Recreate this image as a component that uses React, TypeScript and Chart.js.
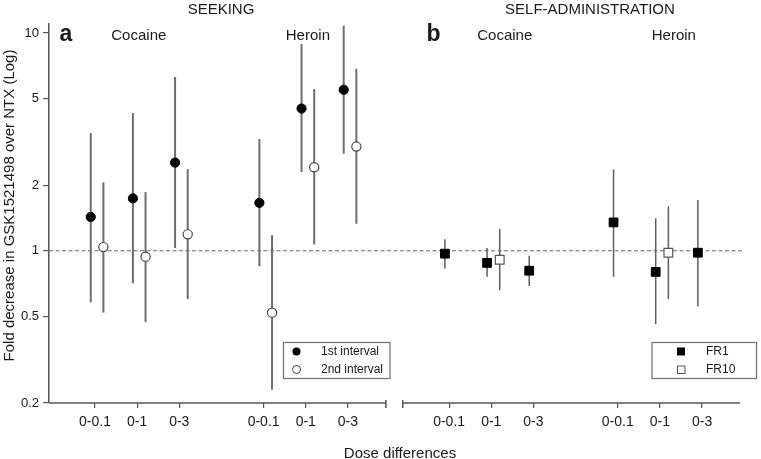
import { useEffect, useRef } from "react";
import { Chart, registerables } from "chart.js";

Chart.register(...registerables);

const FONT = '"Liberation Sans", Arial, Helvetica, sans-serif';

// ---- data ----
const doseLabels = ["0-0.1", "0-1", "0-3"];
const drugLabels = ["Cocaine", "Heroin"];
const panelTitles = ["SEEKING", "SELF-ADMINISTRATION"];
const yTicks = [0.2, 0.5, 1, 2, 5, 10];

// Panel a (seeking): order Cocaine 0-0.1, 0-1, 0-3, Heroin 0-0.1, 0-1, 0-3
const seek1stMean = [1.43, 1.74, 2.54, 1.66, 4.5, 5.49];
const seek1stLow = [0.58, 0.71, 1.03, 0.85, 2.3, 2.79];
const seek1stHigh = [3.47, 4.29, 6.28, 3.26, 8.9, 10.8];

const seek2ndMean = [1.04, 0.94, 1.19, 0.52, 2.42, 3.01];
const seek2ndLow = [0.52, 0.47, 0.6, 0.23, 1.07, 1.33];
const seek2ndHigh = [2.06, 1.86, 2.37, 1.18, 5.53, 6.86];

// Panel b (self-administration)
const fr1Mean = [0.97, 0.88, 0.81, 1.35, 0.8, 0.98];
const fr1Low = [0.83, 0.76, 0.69, 0.76, 0.46, 0.555];
const fr1High = [1.13, 1.03, 0.95, 2.36, 1.41, 1.71];

const fr10Mean = [null, 0.91, null, null, 0.98, null];
const fr10Low = [null, 0.66, null, null, 0.6, null];
const fr10High = [null, 1.26, null, null, 1.6, null];

// ---- layout helpers (category slots on a linear axis) ----
const panelStart = [1, 9.4];
const slot = (panel: number, i: number) =>
  panelStart[panel] + Math.floor(i / 3) * 4 + (i % 3);
const OFF_A = -0.1;
const OFF_B = 0.2;

export default function App() {
  const ref = useRef<HTMLCanvasElement | null>(null);

  useEffect(() => {
    if (!ref.current) return;

    const mk = (panel: number, off: number, mean: (number | null)[]) =>
      mean
        .map((v, i) => (v == null ? null : { x: slot(panel, i) + off, y: v }))
        .filter((p) => p !== null) as { x: number; y: number }[];

    const errSeries = [
      { panel: 0, off: OFF_A, lo: seek1stLow, hi: seek1stHigh, color: "#6e6e6e", w: 2 },
      { panel: 0, off: OFF_B, lo: seek2ndLow, hi: seek2ndHigh, color: "#6e6e6e", w: 2 },
      { panel: 1, off: OFF_A, lo: fr1Low, hi: fr1High, color: "#5e5e5e", w: 1.5 },
      { panel: 1, off: OFF_B, lo: fr10Low, hi: fr10High, color: "#5e5e5e", w: 1.5 },
    ];

    const tickPositions: number[] = [];
    for (let p = 0; p < 2; p++) for (let i = 0; i < 6; i++) tickPositions.push(slot(p, i));

    const overlay = {
      id: "overlay",
      beforeDatasetsDraw(chart: any) {
        const { ctx, chartArea } = chart;
        const xs = chart.scales.x;
        const ys = chart.scales.y;
        ctx.save();
        // reference line at 1
        const y1 = ys.getPixelForValue(1);
        ctx.strokeStyle = "#666";
        ctx.lineWidth = 1;
        ctx.setLineDash([4, 2.5]);
        ctx.beginPath();
        ctx.moveTo(chartArea.left, y1);
        ctx.lineTo(xs.getPixelForValue(16.39), y1);
        ctx.stroke();
        ctx.setLineDash([]);
        // error bars
        for (const s of errSeries) {
          ctx.strokeStyle = s.color;
          ctx.lineWidth = s.w;
          s.lo.forEach((lo, i) => {
            const hi = s.hi[i];
            if (lo == null || hi == null) return;
            const px = xs.getPixelForValue(slot(s.panel, i) + s.off);
            ctx.beginPath();
            ctx.moveTo(px, ys.getPixelForValue(lo));
            ctx.lineTo(px, ys.getPixelForValue(hi));
            ctx.stroke();
          });
        }
        // broken x axis
        const yb = chartArea.bottom;
        const aEnd = xs.getPixelForValue(7.9);
        const bStart = xs.getPixelForValue(8.3);
        const bEnd = xs.getPixelForValue(16.3);
        ctx.strokeStyle = "#555";
        ctx.lineWidth = 1.5;
        ctx.beginPath();
        ctx.moveTo(chartArea.left, yb);
        ctx.lineTo(aEnd, yb);
        ctx.moveTo(bStart, yb);
        ctx.lineTo(bEnd, yb);
        ctx.moveTo(aEnd, yb - 3);
        ctx.lineTo(aEnd, yb + 5);
        ctx.moveTo(bStart, yb - 3);
        ctx.lineTo(bStart, yb + 5);
        ctx.stroke();
        ctx.restore();
      },
      afterDraw(chart: any) {
        const { ctx } = chart;
        const xs = chart.scales.x;
        ctx.save();
        ctx.fillStyle = "#1a1a1a";
        ctx.textAlign = "center";
        ctx.textBaseline = "alphabetic";
        // panel titles
        ctx.font = `15px ${FONT}`;
        ctx.fillText(panelTitles[0], xs.getPixelForValue(3.99), 14);
        ctx.fillText(panelTitles[1], xs.getPixelForValue(12.74), 14);
        // drug labels
        ctx.fillText(drugLabels[0], xs.getPixelForValue(2.04), 39.5);
        ctx.fillText(drugLabels[1], xs.getPixelForValue(6.05), 39.5);
        ctx.fillText(drugLabels[0], xs.getPixelForValue(10.72), 39.5);
        ctx.fillText(drugLabels[1], xs.getPixelForValue(14.73), 39.5);
        // panel letters
        ctx.font = `bold 23px ${FONT}`;
        ctx.fillText("a", xs.getPixelForValue(0.31), 40.5);
        ctx.fillText("b", xs.getPixelForValue(9.03), 40.5);
        // axis titles
        ctx.font = `15px ${FONT}`;
        ctx.fillText("Dose differences", 400, 458);
        ctx.save();
        ctx.translate(10, 205.5);
        ctx.rotate(-Math.PI / 2);
        ctx.textBaseline = "middle";
        ctx.fillText("Fold decrease in GSK1521498 over NTX (Log)", 0, 0);
        ctx.restore();

        // legends
        const drawBox = (x: number, y: number, w: number, h: number) => {
          ctx.strokeStyle = "#777";
          ctx.lineWidth = 1.3;
          ctx.strokeRect(x, y, w, h);
        };
        ctx.textAlign = "left";
        ctx.textBaseline = "middle";
        ctx.font = `12px ${FONT}`;
        // panel a legend
        drawBox(283.5, 342.5, 106.5, 36);
        ctx.beginPath();
        ctx.arc(296.5, 351.5, 4, 0, Math.PI * 2);
        ctx.fillStyle = "#000";
        ctx.fill();
        ctx.beginPath();
        ctx.arc(296.5, 369.5, 4, 0, Math.PI * 2);
        ctx.fillStyle = "#fff";
        ctx.fill();
        ctx.strokeStyle = "#444";
        ctx.lineWidth = 1;
        ctx.stroke();
        ctx.fillStyle = "#1a1a1a";
        ctx.fillText("1st interval", 321, 351.5);
        ctx.fillText("2nd interval", 321, 369.5);
        // panel b legend
        drawBox(652, 342.5, 104.5, 36);
        ctx.fillStyle = "#000";
        ctx.fillRect(677, 347.5, 8, 8);
        ctx.fillStyle = "#fff";
        ctx.fillRect(677, 365.5, 8, 8);
        ctx.strokeStyle = "#555";
        ctx.lineWidth = 1;
        ctx.strokeRect(677.5, 366, 7.5, 7.5);
        ctx.fillStyle = "#1a1a1a";
        ctx.fillText("FR1", 706, 351.5);
        ctx.fillText("FR10", 706, 369.5);
        ctx.restore();
      },
    };

    const chart = new Chart(ref.current, {
      type: "scatter",
      data: {
        datasets: [
          {
            label: "1st interval",
            data: mk(0, OFF_A, seek1stMean),
            pointStyle: "circle",
            pointRadius: 4.6,
            backgroundColor: "#000",
            borderColor: "#000",
            borderWidth: 1,
          },
          {
            label: "2nd interval",
            data: mk(0, OFF_B, seek2ndMean),
            pointStyle: "circle",
            pointRadius: 4.6,
            backgroundColor: "#fff",
            borderColor: "#444",
            borderWidth: 1.2,
          },
          {
            label: "FR1",
            data: mk(1, OFF_A, fr1Mean),
            pointStyle: "rect",
            pointRadius: 6.2,
            backgroundColor: "#000",
            borderColor: "#000",
            borderWidth: 1,
          },
          {
            label: "FR10",
            data: mk(1, OFF_B, fr10Mean),
            pointStyle: "rect",
            pointRadius: 6.2,
            backgroundColor: "#fff",
            borderColor: "#555",
            borderWidth: 1.2,
          },
        ],
      },
      options: {
        animation: false,
        responsive: true,
        maintainAspectRatio: false,
        layout: { padding: { left: 0, right: 10, top: 24, bottom: 0 } },
        plugins: { legend: { display: false }, tooltip: { enabled: false } },
        scales: {
          x: {
            type: "linear",
            min: -0.09,
            max: 16.56,
            afterFit: (s: any) => {
              s.height = 56;
            },
            afterBuildTicks: (s: any) => {
              s.ticks = tickPositions.map((v) => ({ value: v }));
            },
            ticks: {
              autoSkip: false,
              maxRotation: 0,
              padding: 6,
              color: "#1a1a1a",
              font: { family: FONT, size: 14 },
              callback: (_v: any, i: number) => doseLabels[i % 3],
            },
            grid: {
              display: true,
              drawOnChartArea: false,
              drawTicks: true,
              tickLength: 5,
              color: "#555",
              lineWidth: 1.2,
            },
            border: { display: false },
          },
          y: {
            type: "logarithmic",
            min: 0.2,
            max: 11,
            afterFit: (s: any) => {
              s.width = 49;
            },
            afterBuildTicks: (s: any) => {
              s.ticks = yTicks.map((v) => ({ value: v }));
            },
            ticks: {
              padding: 4,
              color: "#1a1a1a",
              font: { family: FONT, size: 13 },
              callback: (v: any) => String(v),
            },
            grid: {
              display: true,
              drawOnChartArea: false,
              drawTicks: true,
              tickLength: 6,
              color: "#555",
              lineWidth: 1.2,
            },
            border: { display: true, color: "#555", width: 1.5 },
          },
        },
      },
      plugins: [overlay],
    } as any);

    return () => chart.destroy();
  }, []);

  return (
    <div
      style={{
        position: "absolute",
        left: 0,
        top: 0,
        width: 761,
        height: 459,
        background: "#fff",
      }}
    >
      <canvas ref={ref} />
    </div>
  );
}
